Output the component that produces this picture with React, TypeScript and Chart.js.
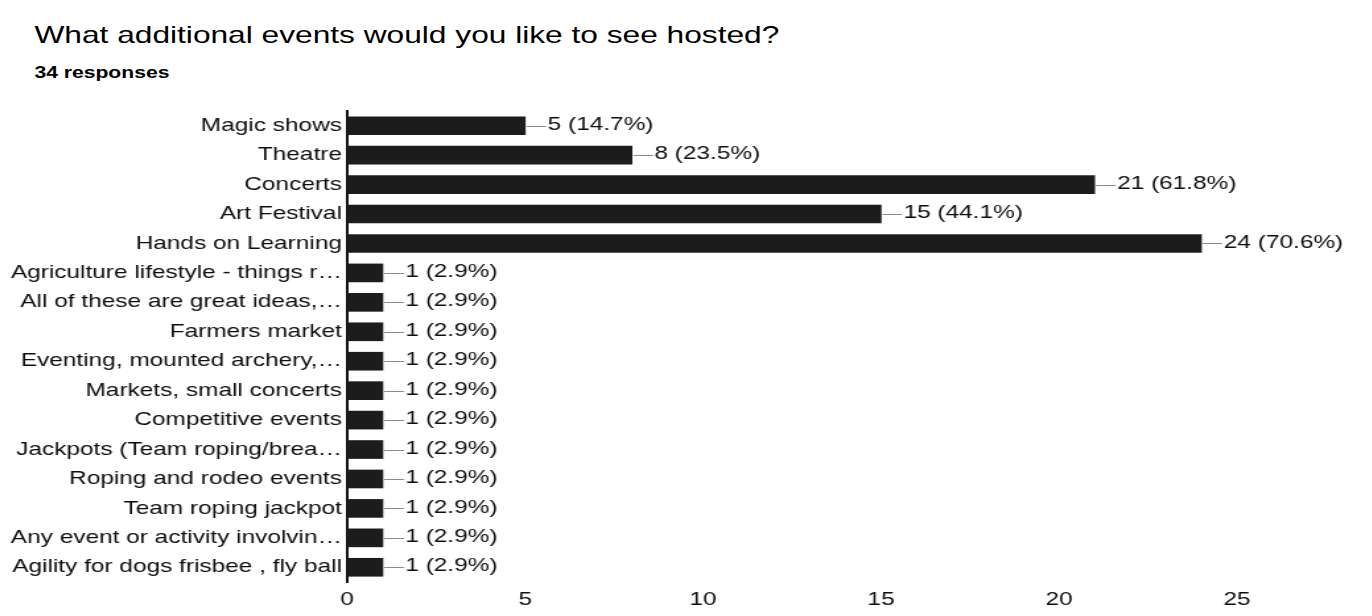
import React, { useEffect, useRef } from "react";
import { Chart, registerables } from "chart.js";

Chart.register(...registerables);

const TITLE = "What additional events would you like to see hosted?";
const SUBTITLE = "34 responses";
const TOTAL_RESPONSES = 34;

const categories = [
  "Magic shows",
  "Theatre",
  "Concerts",
  "Art Festival",
  "Hands on Learning",
  "Agriculture lifestyle - things r…",
  "All of these are great ideas,…",
  "Farmers market",
  "Eventing, mounted archery,…",
  "Markets, small concerts",
  "Competitive events",
  "Jackpots (Team roping/brea…",
  "Roping and rodeo events",
  "Team roping jackpot",
  "Any event or activity involvin…",
  "Agility for dogs frisbee , fly ball",
];

const counts = [5, 8, 21, 15, 24, 1, 1, 1, 1, 1, 1, 1, 1, 1, 1, 1];

const xTicks = [0, 5, 10, 15, 20, 25];

// The whole figure is drawn on a narrower surface and widened horizontally.
const STRETCH = 1.32;
const W = 1027;
const H = 600;
const FONT = '"Liberation Sans", Arial, Helvetica, sans-serif';
const LABEL_SIZE = 18.5;
const LEADER = 16;
const INK = "#0d0d0d";

const valueLabels = {
  id: "valueLabels",
  afterDatasetsDraw(chart: any) {
    const ctx = chart.ctx;
    const meta = chart.getDatasetMeta(0);
    ctx.save();
    meta.data.forEach((bar: any, i: number) => {
      const v = counts[i];
      const x = bar.x;
      const y = bar.y;
      const ly = Math.round(y) + 0.5;
      ctx.strokeStyle = "#8c8c8c";
      ctx.lineWidth = 1;
      ctx.beginPath();
      ctx.moveTo(x + 1, ly);
      ctx.lineTo(x + LEADER, ly);
      ctx.stroke();
      ctx.fillStyle = INK;
      ctx.font = `${LABEL_SIZE}px ${FONT}`;
      ctx.textAlign = "left";
      ctx.textBaseline = "middle";
      const pct = ((v / TOTAL_RESPONSES) * 100).toFixed(1);
      ctx.fillText(`${v} (${pct}%)`, x + LEADER + 1, y - 1);
    });
    ctx.restore();
  },
};

export default function App() {
  const canvasRef = useRef<HTMLCanvasElement | null>(null);

  useEffect(() => {
    const canvas = canvasRef.current;
    if (!canvas) return;
    const chart = new Chart(canvas, {
      type: "bar",
      data: {
        labels: categories,
        datasets: [
          {
            data: counts,
            backgroundColor: "#1c1c1c",
            borderWidth: 0,
            barThickness: 18,
          },
        ],
      },
      options: {
        indexAxis: "y",
        responsive: false,
        animation: false,
        devicePixelRatio: 1,
        layout: { padding: { top: 103, right: 96, left: 0, bottom: 0 } },
        plugins: {
          legend: { display: false },
          tooltip: { enabled: false },
        },
        scales: {
          x: {
            min: 0,
            max: 25,
            afterBuildTicks: (scale: any) => {
              scale.ticks = xTicks.map((v) => ({ value: v }));
            },
            afterFit: (scale: any) => {
              scale.height = 26;
            },
            grid: { display: false, drawTicks: false },
            border: { display: false },
            ticks: {
              padding: 7,
              color: INK,
              font: { family: FONT, size: LABEL_SIZE },
            },
          },
          y: {
            afterFit: (scale: any) => {
              scale.width = 257;
            },
            grid: { display: false, drawTicks: false },
            border: { display: true, color: "#111111", width: 2 },
            ticks: {
              padding: 4,
              color: INK,
              autoSkip: false,
              font: { family: FONT, size: LABEL_SIZE },
            },
          },
        },
      },
      plugins: [valueLabels],
    } as any);
    return () => chart.destroy();
  }, []);

  return (
    <div
      style={{
        position: "relative",
        width: W,
        height: H,
        transform: `scaleX(${STRETCH})`,
        transformOrigin: "0 0",
        background: "#ffffff",
      }}
    >
      <div
        style={{
          position: "absolute",
          left: 20,
          top: 12,
          fontFamily: FONT,
          fontSize: 24,
          lineHeight: "30px",
          color: "#000000",
          whiteSpace: "nowrap",
        }}
      >
        {TITLE}
      </div>
      <div
        style={{
          position: "absolute",
          left: 20,
          top: 55,
          fontFamily: FONT,
          fontSize: 16,
          fontWeight: "bold",
          lineHeight: "20px",
          color: "#000000",
          whiteSpace: "nowrap",
        }}
      >
        {SUBTITLE}
      </div>
      <canvas
        ref={canvasRef}
        width={W}
        height={H}
        style={{ position: "absolute", left: 0, top: 0, width: W, height: H }}
      />
    </div>
  );
}
